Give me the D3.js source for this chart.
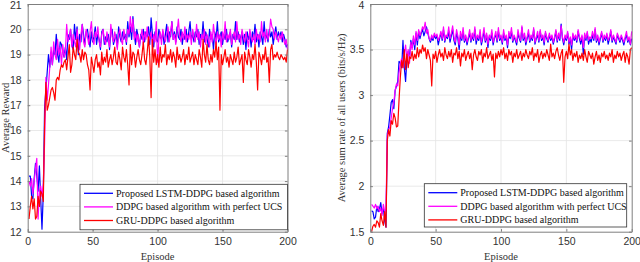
<!DOCTYPE html>
<html><head><meta charset="utf-8">
<script src="https://cdn.jsdelivr.net/npm/d3@7"></script>
<style>html,body{margin:0;padding:0;background:#fff;}svg{display:block;}</style>
</head><body><svg id="c" width="640" height="262"></svg>
<script>
// ---------- DATA ----------
const episodes = d3.range(1, 201);
const seriesNames = ["Proposed LSTM-DDPG based algorithm", "DDPG based algorithm with perfect UCS", "GRU-DDPG based algorithm"];
const seriesColors = ["#0000ff", "#ff00ff", "#ff0000"];

const rewardTicksX = [0, 50, 100, 150, 200];
const rewardTicksY = [12, 13, 14, 15, 16, 17, 18, 19, 20, 21];
const rateTicksY = [1.5, 2, 2.5, 3, 3.5, 4];

const rewardLSTM = [
14.2,14.2,13.4,13.3,14.1,14.7,14.2,13.6,14.6,13.3,12.1,13.5,16.9,17.6,18.3,19.0,18.5,19.1,18.6,19.2,
19.0,19.8,19.0,18.7,19.5,19.4,19.1,18.9,19.3,18.8,19.8,19.6,20.0,19.4,19.2,20.2,19.6,20.1,19.0,19.8,
19.5,20.2,19.8,19.4,19.9,20.0,19.6,19.3,19.9,19.5,19.7,20.1,19.4,19.8,19.6,19.2,19.9,20.0,19.4,19.7,
19.5,19.8,19.2,19.9,20.0,19.4,19.6,19.8,19.3,20.1,19.7,19.5,19.9,19.6,19.8,19.4,20.3,19.7,20.1,19.6,
20.5,19.8,19.4,20.0,19.7,19.3,19.8,19.6,20.0,19.5,19.9,19.7,20.1,19.4,20.45,19.8,19.3,19.9,19.6,19.5,
20.0,19.7,19.6,19.9,19.4,19.8,20.2,19.5,19.9,19.7,20.3,19.6,19.9,19.5,20.1,19.7,19.6,20.0,19.4,19.8,
19.6,20.0,19.5,19.9,20.3,19.6,19.8,19.5,19.9,19.7,20.0,19.4,19.8,19.6,20.3,19.5,19.9,19.7,19.3,20.0,
19.6,19.8,19.2,19.9,19.6,20.3,19.5,19.7,19.9,19.4,19.8,19.6,20.0,19.5,19.7,19.9,19.3,19.8,19.6,20.3,
19.6,19.9,19.5,19.7,19.9,19.4,19.8,19.2,19.9,19.6,19.8,19.3,19.9,19.6,20.2,19.5,19.8,19.3,19.9,19.7,
19.4,20.3,19.6,19.8,19.5,20.0,19.7,19.9,19.4,19.8,20.1,19.6,19.9,19.7,19.9,19.5,19.8,19.6,19.3,19.4];

const rewardPerfect = [
14.0,13.8,14.1,13.5,14.0,14.5,14.9,12.5,13.6,13.8,13.4,13.9,15.5,18.1,17.2,17.8,18.5,19.3,18.6,19.5,
19.0,18.8,19.6,19.0,19.3,18.6,19.4,18.9,19.1,20.2,19.5,19.7,20.0,19.3,19.8,19.5,19.3,20.0,19.6,19.2,
19.8,20.2,19.5,19.3,20.0,19.7,19.4,19.9,20.3,19.6,19.4,19.9,19.7,20.1,19.5,19.3,19.8,20.0,19.6,19.4,
19.9,19.6,19.3,20.2,19.7,19.5,19.9,19.6,19.2,19.8,20.0,19.6,19.4,20.0,19.7,19.5,20.0,19.8,20.5,19.9,
20.4,19.6,19.9,19.5,19.8,19.3,19.7,20.0,19.4,19.9,19.6,20.1,19.5,19.7,19.9,19.3,19.8,19.5,20.3,18.7,
19.6,19.9,19.4,20.0,19.7,19.5,19.8,20.1,19.5,19.9,20.3,19.6,19.8,19.4,19.9,20.4,19.7,19.5,19.9,19.6,
20.1,19.5,19.8,19.6,19.9,19.4,20.0,19.7,19.5,20.2,19.6,19.9,19.3,19.8,19.6,20.0,19.4,19.8,19.6,19.3,
19.9,19.5,20.2,19.7,19.4,19.9,19.6,19.8,19.3,19.9,19.6,20.3,19.5,19.8,19.6,20.0,19.4,19.7,19.9,19.5,
20.3,19.6,19.8,19.4,20.0,19.7,19.5,19.9,19.6,19.3,20.0,19.7,19.5,19.8,19.4,20.0,19.6,19.8,19.5,20.3,
19.7,19.9,19.5,20.0,19.6,19.8,20.4,20.1,20.0,19.6,19.9,19.7,19.5,19.8,19.6,19.9,19.6,19.4,19.6,19.2];

const rewardGRU = [
12.5,13.0,13.4,12.9,13.3,12.5,12.6,13.4,13.0,13.6,13.5,13.2,16.2,17.9,16.8,17.0,17.3,17.6,17.7,17.5,
17.2,18.0,18.1,18.0,18.4,18.6,18.5,18.7,18.8,18.4,18.9,19.4,18.3,18.6,19.3,19.0,18.8,19.6,19.1,19.0,
18.7,19.2,18.8,19.1,19.0,18.6,18.4,17.6,18.9,18.6,18.3,18.8,19.0,18.5,18.7,18.2,19.1,18.6,18.9,18.7,
19.2,18.5,18.8,19.0,18.6,18.9,19.3,18.7,18.6,19.1,18.8,18.4,19.3,18.9,18.7,19.2,18.6,17.8,19.4,18.6,
19.1,19.0,18.5,18.9,19.2,18.8,18.6,19.0,19.5,18.8,18.6,19.1,19.7,18.9,17.3,19.6,18.7,19.2,18.6,19.0,
18.5,19.3,18.7,19.0,18.9,19.4,18.6,19.0,18.8,19.2,18.7,19.1,18.9,18.5,19.3,18.8,19.0,18.7,18.9,19.2,
18.6,19.0,18.8,19.3,18.7,18.9,19.1,18.6,19.0,18.8,18.6,19.2,18.9,18.5,19.6,19.0,18.7,19.4,18.8,18.6,
19.0,18.7,19.2,18.9,19.5,18.8,19.3,16.8,19.0,18.6,18.9,19.2,18.7,18.9,18.5,19.0,18.8,18.6,19.1,18.7,
18.9,19.3,18.6,18.8,19.0,17.9,19.1,18.8,18.6,19.2,18.9,18.5,19.0,18.8,19.4,18.7,17.6,19.1,18.9,18.6,
19.0,18.8,19.3,18.7,18.9,17.9,19.2,19.4,18.8,19.0,18.9,19.1,18.9,18.8,19.0,18.9,18.8,18.9,18.7,19.2];

const rateLSTM = [
1.73,1.72,1.64,1.66,1.78,1.72,1.75,1.82,1.70,1.76,1.62,1.55,2.58,2.65,2.78,2.92,2.95,2.85,3.05,3.10,
3.15,3.37,3.35,3.30,3.60,3.30,3.15,3.40,3.48,3.42,3.60,3.52,3.62,3.50,3.68,3.55,3.70,3.62,3.68,3.72,
3.65,3.70,3.75,3.68,3.62,3.58,3.63,3.60,3.66,3.62,3.65,3.55,3.62,3.68,3.60,3.72,3.58,3.65,3.62,3.70,
3.58,3.65,3.72,3.60,3.55,3.68,3.62,3.50,3.66,3.60,3.70,3.58,3.64,3.55,3.62,3.68,3.58,3.65,3.60,3.72,
3.56,3.64,3.60,3.68,3.55,3.62,3.70,3.58,3.66,3.52,3.64,3.60,3.68,3.55,3.63,3.66,3.58,3.70,3.60,3.64,
3.56,3.68,3.60,3.64,3.52,3.66,3.62,3.70,3.58,3.64,3.60,3.55,3.68,3.62,3.58,3.74,3.60,3.65,3.55,3.62,
3.68,3.58,3.64,3.60,3.72,3.56,3.62,3.66,3.58,3.70,3.60,3.64,3.55,3.68,3.62,3.58,3.66,3.60,3.64,3.56,
3.62,3.70,3.58,3.66,3.60,3.78,3.62,3.55,3.64,3.60,3.68,3.56,3.62,3.50,3.66,3.60,3.64,3.58,3.70,3.62,
3.56,3.64,3.45,3.66,3.60,3.68,3.56,3.62,3.58,3.66,3.60,3.72,3.58,3.64,3.55,3.62,3.68,3.58,3.64,3.60,
3.66,3.56,3.62,3.70,3.58,3.64,3.60,3.56,3.66,3.62,3.58,3.64,3.60,3.55,3.62,3.66,3.58,3.62,3.55,3.62];

const ratePerfect = [
1.80,1.78,1.76,1.80,1.75,1.78,1.72,1.76,1.68,1.80,1.72,1.75,2.55,2.62,2.65,2.75,2.85,2.92,3.05,3.12,
3.10,3.25,3.35,3.40,3.30,3.45,3.55,3.40,3.50,3.35,3.58,3.50,3.65,3.55,3.70,3.60,3.72,3.65,3.70,3.75,
3.72,3.80,3.68,3.72,3.62,3.60,3.66,3.62,3.68,3.64,3.67,3.60,3.64,3.70,3.62,3.75,3.60,3.66,3.64,3.75,
3.62,3.68,3.76,3.64,3.58,3.72,3.65,3.55,3.70,3.62,3.74,3.60,3.66,3.58,3.64,3.72,3.60,3.68,3.62,3.75,
3.60,3.66,3.62,3.72,3.58,3.65,3.74,3.60,3.68,3.56,3.66,3.62,3.72,3.58,3.64,3.70,3.60,3.74,3.62,3.66,
3.58,3.72,3.62,3.66,3.55,3.70,3.64,3.74,3.60,3.66,3.62,3.58,3.72,3.64,3.60,3.76,3.62,3.68,3.58,3.64,
3.72,3.60,3.66,3.62,3.74,3.58,3.64,3.70,3.60,3.72,3.62,3.66,3.58,3.70,3.64,3.60,3.68,3.62,3.66,3.58,
3.64,3.72,3.60,3.68,3.62,3.76,3.64,3.58,3.66,3.62,3.70,3.58,3.64,3.55,3.68,3.62,3.66,3.60,3.72,3.64,
3.60,3.66,3.52,3.68,3.62,3.70,3.60,3.64,3.62,3.70,3.62,3.74,3.60,3.66,3.58,3.64,3.70,3.60,3.66,3.62,
3.68,3.60,3.64,3.72,3.60,3.66,3.62,3.58,3.68,3.64,3.60,3.66,3.62,3.58,3.64,3.70,3.60,3.64,3.56,3.70];

const rateGRU = [
1.50,1.56,1.58,1.55,1.62,1.60,1.55,1.70,1.62,1.57,1.72,1.55,2.50,2.62,2.55,2.72,2.68,2.80,2.75,2.65,
2.66,2.95,3.20,3.38,3.30,3.50,3.28,3.45,3.30,3.42,3.40,3.48,3.38,3.45,3.40,3.52,3.42,3.50,3.46,3.55,
3.48,3.52,3.40,3.50,3.44,3.38,3.10,3.45,3.40,3.48,3.36,3.44,3.50,3.42,3.46,3.38,3.52,3.44,3.40,3.48,
3.42,3.50,3.36,3.46,3.44,3.52,3.40,3.48,3.32,3.46,3.42,3.50,3.38,3.44,3.48,3.40,3.46,3.28,3.44,3.50,
3.42,3.38,3.48,3.44,3.50,3.36,3.46,3.42,3.52,3.40,3.44,3.48,3.38,3.45,3.20,3.46,3.40,3.48,3.42,3.50,
3.44,3.52,3.40,3.46,3.38,3.50,3.44,3.48,3.36,3.46,3.42,3.50,3.40,3.44,3.48,3.38,3.46,3.42,3.50,3.44,
3.40,3.48,3.44,3.52,3.38,3.46,3.42,3.50,3.36,3.44,3.48,3.40,3.46,3.42,3.50,3.44,3.38,3.56,3.42,3.46,
3.40,3.48,3.52,3.44,3.38,3.46,3.50,3.14,3.42,3.48,3.40,3.56,3.44,3.50,3.38,3.46,3.42,3.48,3.36,3.44,
3.40,3.46,3.38,3.50,3.42,3.36,3.48,3.44,3.40,3.46,3.34,3.42,3.48,3.38,3.44,3.36,3.46,3.42,3.48,3.40,
3.44,3.38,3.46,3.42,3.50,3.36,3.44,3.40,3.48,3.42,3.46,3.38,3.44,3.48,3.36,3.46,3.42,3.34,3.50,3.52];

// ---------- DRAW ----------
const svg = d3.select("#c");
const SANS = "'Liberation Sans', Arial, Helvetica, sans-serif";
const SERIF = "'Liberation Serif', 'Times New Roman', serif";

function panel(o) {
  const x = d3.scaleLinear().domain([0, 200]).range([o.left, o.right]);
  const y = d3.scaleLinear().domain(o.yDomain).range([o.bottom, o.top]);
  const g = svg.append("g");

  // grid
  g.append("g").selectAll("line.gx").data(rewardTicksX.slice(1, -1)).join("line")
    .attr("x1", d => x(d)).attr("x2", d => x(d)).attr("y1", o.top).attr("y2", o.bottom)
    .attr("stroke", "#e3e3e3").attr("stroke-width", 0.8);
  g.append("g").selectAll("line.gy").data(o.yTicks.slice(1, -1)).join("line")
    .attr("x1", o.left).attr("x2", o.right).attr("y1", d => y(d)).attr("y2", d => y(d))
    .attr("stroke", "#e3e3e3").attr("stroke-width", 0.8);

  // lines
  const line = d3.line().x((d, i) => x(episodes[i])).y(d => y(d));
  [0, 1, 2].forEach(k => {
    g.append("path").datum(o.series[k]).attr("d", line).attr("fill", "none")
      .attr("stroke", seriesColors[k]).attr("stroke-width", 1.2).attr("stroke-linejoin", "round");
  });

  // axes
  const axColor = "#7f7f7f";
  const styleAxis = (sel) => {
    sel.select(".domain").attr("stroke", axColor).attr("stroke-width", 1);
    sel.selectAll(".tick line").attr("stroke", axColor);
    sel.selectAll(".tick text").attr("fill", "#333").style("font-family", SANS).style("font-size", "10.5px");
  };
  g.append("g").attr("transform", `translate(0,${o.bottom})`)
    .call(d3.axisBottom(x).tickValues(rewardTicksX).tickSizeInner(-2.6).tickSizeOuter(0).tickPadding(6))
    .call(styleAxis);
  g.append("g").attr("transform", `translate(0,${o.top})`)
    .call(d3.axisTop(x).tickValues(rewardTicksX).tickSizeInner(-2.6).tickSizeOuter(0).tickFormat(""))
    .call(styleAxis);
  const ly = g.append("g").attr("transform", `translate(${o.left},0)`)
    .call(d3.axisLeft(y).tickValues(o.yTicks).tickSizeInner(-2.6).tickSizeOuter(0).tickPadding(6).tickFormat(o.yFmt))
    .call(styleAxis);
  // keep the top tick label inside the picture
  ly.selectAll(".tick text").filter(d => d === o.yTicks[o.yTicks.length - 1]).attr("dy", "0.42em");
  g.append("g").attr("transform", `translate(${o.right},0)`)
    .call(d3.axisRight(y).tickValues(o.yTicks).tickSizeInner(-2.6).tickSizeOuter(0).tickFormat(""))
    .call(styleAxis);

  // axis labels
  g.append("text").attr("x", (o.left + o.right) / 2).attr("y", 260)
    .attr("text-anchor", "middle").style("font-family", SERIF).style("font-size", "10.5px")
    .attr("fill", "#333").text("Episode");
  g.append("text").attr("transform", `translate(${o.yLabelX},${(o.top + o.bottom) / 2}) rotate(-90)`)
    .attr("text-anchor", "middle").style("font-family", SERIF).style("font-size", "10.5px")
    .attr("fill", "#333").text(o.yLabel);

  // legend
  const lg = g.append("g");
  lg.append("rect").attr("x", o.leg.x).attr("y", o.leg.y).attr("width", o.leg.w).attr("height", o.leg.h)
    .attr("fill", "#fff").attr("stroke", "#333").attr("stroke-width", 0.8);
  seriesNames.forEach((nm, k) => {
    const yy = o.leg.y + 9 + k * 13.6;
    lg.append("line").attr("x1", o.leg.x + 4).attr("x2", o.leg.x + 33).attr("y1", yy).attr("y2", yy)
      .attr("stroke", seriesColors[k]).attr("stroke-width", 1.3);
    lg.append("text").attr("x", o.leg.x + 36).attr("y", yy + 3.5)
      .style("font-family", SERIF).style("font-size", "10px").attr("fill", "#111").text(nm);
  });
}

panel({
  left: 27.7, right: 287.5, top: 4, bottom: 231.7,
  yDomain: [12, 21], yTicks: rewardTicksY, yFmt: d3.format("d"),
  series: [rewardLSTM, rewardPerfect, rewardGRU],
  yLabel: "Average Reward", yLabelX: 9,
  leg: { x: 80, y: 184.3, w: 207.5, h: 45.5 }
});
panel({
  left: 370.3, right: 631.7, top: 4, bottom: 231.7,
  yDomain: [1.5, 4], yTicks: rateTicksY, yFmt: d => (d % 1 === 0 ? d3.format("d")(d) : d3.format(".1f")(d)),
  series: [rateLSTM, ratePerfect, rateGRU],
  yLabel: "Average sum rate of all users (bits/s/Hz)", yLabelX: 345,
  leg: { x: 424.3, y: 183.7, w: 202.4, h: 43.3 }
});
</script>
</body></html>
